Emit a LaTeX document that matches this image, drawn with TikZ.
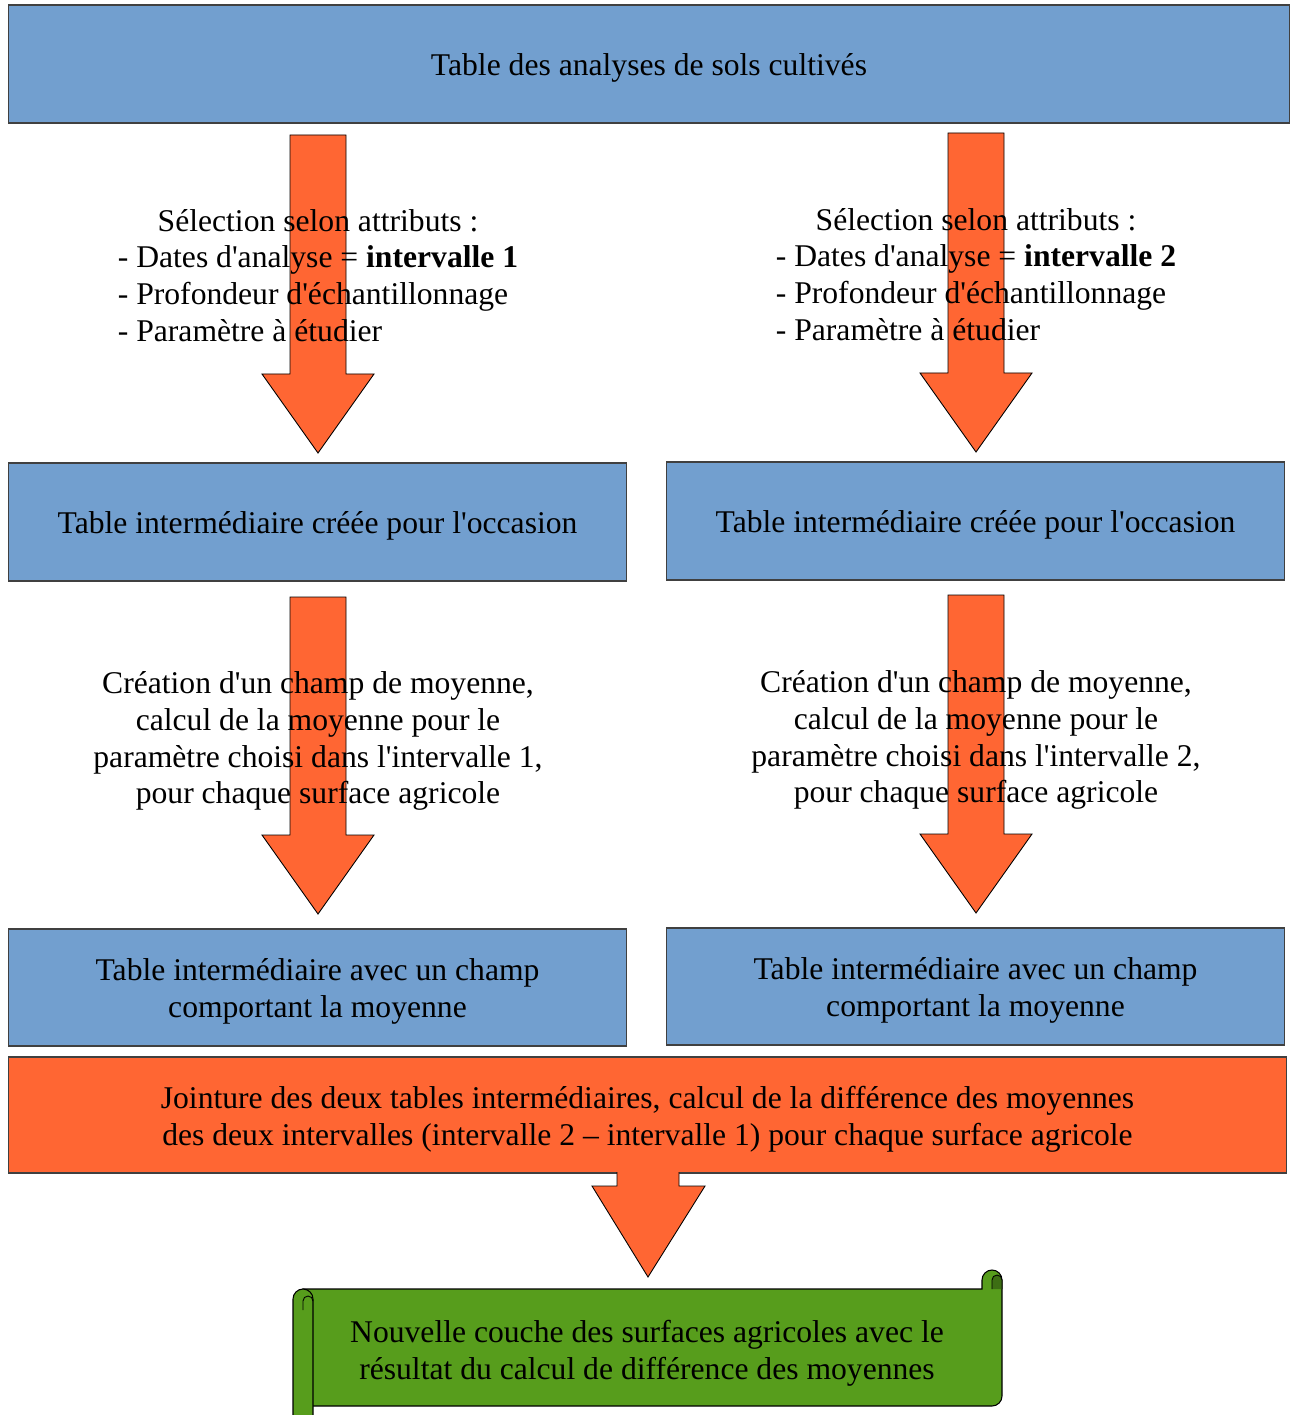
\documentclass[tikz,border=0pt]{standalone}
\usepackage{fontspec}
\setmainfont{Liberation Serif}[Ligatures=TeXOff]
\definecolor{boxblue}{HTML}{729FCF}
\definecolor{arroworange}{HTML}{FF6633}
\definecolor{scrollgreen}{HTML}{579D1C}
\newcommand{\boxstrut}{\rule{0pt}{17.4pt}}

\begin{document}
\begin{tikzpicture}[x=0.02cm,y=-0.02cm,
	tablebox/.style={draw=black!75,fill=boxblue,line width=0.6pt,
		font=\fontsize{18}{21}\selectfont,align=center,inner sep=0pt},
	joinbox/.style={tablebox,fill=arroworange},
	blockarrow/.style={draw=black,fill=arroworange,line width=0.5pt},
	scrollbox/.style={draw=black,fill=scrollgreen,line width=0.6pt},
	label/.style={font=\fontsize{18}{21}\selectfont,align=center,inner sep=0pt}]
\useasboundingbox (0,0) rectangle (1290,1415);

% tables
\node[tablebox,minimum width=25.62cm,minimum height=2.36cm] (top) at (649,64) {\boxstrut Table des analyses de sols cultivés};
\node[tablebox,minimum width=12.38cm,minimum height=2.36cm] (mid1) at (317.5,522) {\boxstrut Table intermédiaire créée pour l'occasion};
\node[tablebox,minimum width=12.38cm,minimum height=2.36cm] (mid2) at (975.5,521) {\boxstrut Table intermédiaire créée pour l'occasion};
\node[tablebox,minimum width=12.38cm,minimum height=2.34cm] (moy1) at (317.5,987.5) {\boxstrut Table intermédiaire avec un champ\\comportant la moyenne};
\node[tablebox,minimum width=12.38cm,minimum height=2.34cm] (moy2) at (975.5,986.5) {\boxstrut Table intermédiaire avec un champ\\comportant la moyenne};
\node[joinbox,minimum width=25.58cm,minimum height=2.32cm] (join) at (647.5,1115) {\boxstrut Jointure des deux tables intermédiaires, calcul de la différence des moyennes\\des deux intervalles (intervalle 2 – intervalle 1) pour chaque surface agricole};

% block arrows
\foreach \x/\t/\b/\p in {318/135/374/453, 976/133/373/452, 318/597/835/914, 976/595/834/913}
	\draw[blockarrow] (\x-28,\t) -- (\x+28,\t) -- (\x+28,\b) -- (\x+56,\b) -- (\x,\p) -- (\x-56,\b) -- (\x-28,\b) -- cycle;
\draw[blockarrow] (617,1172) -- (617,1186) -- (592,1186) -- (648,1277) -- (705,1186) -- (679,1186) -- (679,1172);

% labels on the arrows
\foreach \x/\n/\k/\y in {318/sel1/1/279, 976/sel2/2/278}
	\node[label] (\n) at (\x,\y) {\begin{tabular}{@{}l@{}}
		\multicolumn{1}{@{}c@{}}{Sélection selon attributs :}\\
		- Dates d'analyse = \textbf{intervalle \k}\\
		- Profondeur d'échantillonnage\\
		- Paramètre à étudier
	\end{tabular}};
\foreach \x/\n/\k/\y in {318/calc1/1/741, 976/calc2/2/740}
	\node[label] (\n) at (\x,\y) {Création d'un champ de moyenne,\\calcul de la moyenne pour le\\paramètre choisi dans l'intervalle \k,\\pour chaque surface agricole};

% scroll
\draw[scrollbox] (303,1289) -- (982,1289) -- (982,1280) arc[start angle=180,end angle=360,radius=10]
	-- (1002,1396) arc[start angle=0,end angle=90,radius=10] -- (303,1406) -- cycle;
\filldraw[fill=scrollgreen!70!black,line width=0.5pt] (992,1289) -- (992,1280) arc[start angle=180,end angle=360,radius=5] -- (1002,1289);
\draw[scrollbox] (293,1420) -- (293,1299) arc[start angle=180,end angle=360,radius=10] -- (313,1420);
\draw[line width=0.5pt] (303,1310) -- (303,1301) arc[start angle=180,end angle=360,radius=5] -- (313,1301);
\node[label] (result) at (647,1349) {\boxstrut Nouvelle couche des surfaces agricoles avec le\\résultat du calcul de différence des moyennes};
\end{tikzpicture}
\end{document}
